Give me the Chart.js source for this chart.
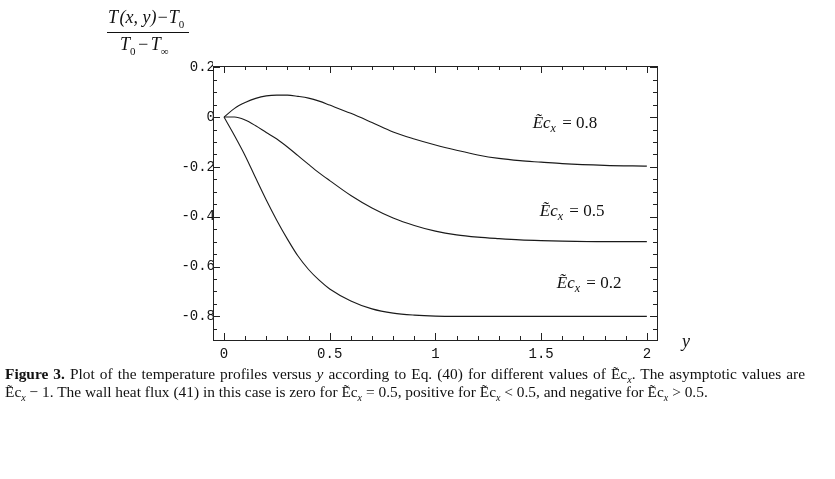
<!DOCTYPE html>
<html>
<head>
<meta charset="utf-8">
<script src="https://cdn.jsdelivr.net/npm/chart.js@4"></script>
<style>
  html, body { margin: 0; padding: 0; background: #fff; }
  #wrap { position: relative; width: 835px; height: 479px; overflow: hidden; }
  #c { position: absolute; left: 0; top: 0; }
  .frac { position: absolute; font-family: "Liberation Serif", serif; font-style: italic; font-size: 18px; color: #111; text-align: center; }
  .frac .num { position: absolute; white-space: nowrap; }
  .frac .bar { position: absolute; border-top: 1.3px solid #111; }
  .frac sub { font-size: 11px; font-style: normal; }
  .ylab { position: absolute; left: 682px; top: 331px; font-family: "Liberation Serif", serif; font-style: italic; font-size: 18px; color: #111; }
  .cap { position: absolute; left: 5px; font-family: "Liberation Serif", serif; font-size: 15.4px; color: #111; white-space: nowrap; }
  .cap.just { width: 800px; white-space: normal; text-align: justify; text-align-last: justify; }
  .cap sub { font-size: 10px; font-style: italic; }
</style>
</head>
<body>
<div id="wrap">
  <canvas id="c" width="835" height="479"></canvas>
  <div class="frac">
    <span class="num" style="left:108px; top:7px;">T&#8202;(x, y)&#8722;T<sub>0</sub></span>
    <div class="bar" style="left:107px; top:32px; width:82px;"></div>
    <span class="num" style="left:120px; top:34px;">T<sub>0</sub>&#8202;&#8722;&#8202;T<sub>&#8734;</sub></span>
  </div>
  <div class="ylab">y</div>
  <div class="cap just" style="top:365px;"><b>Figure 3.</b> Plot of the temperature profiles versus <i>y</i> according to Eq. (40) for different values of Ẽc<sub>x</sub>. The asymptotic values are</div>
  <div class="cap" style="top:383px;">Ẽc<sub>x</sub> &#8722; 1. The wall heat flux (41) in this case is zero for Ẽc<sub>x</sub> = 0.5, positive for Ẽc<sub>x</sub> &lt; 0.5, and negative for Ẽc<sub>x</sub> &gt; 0.5.</div>
</div>
<script>
// distance from the wall, y
var yPos = [0, 0.05, 0.1, 0.15, 0.2, 0.25, 0.3, 0.35, 0.4, 0.45, 0.5, 0.6, 0.7, 0.8, 0.9, 1.0, 1.1, 1.2, 1.3, 1.4, 1.5, 1.6, 1.8, 2.0];
// (T - T0)/(T0 - Tinf) for each Ec_x
var ec08 = [0, 0.035, 0.058, 0.075, 0.085, 0.088, 0.088, 0.083, 0.076, 0.064, 0.048, 0.015, -0.022, -0.06, -0.088, -0.112, -0.133, -0.152, -0.166, -0.175, -0.181, -0.187, -0.194, -0.197];
var ec05 = [0, 0.0, -0.012, -0.035, -0.062, -0.088, -0.12, -0.155, -0.19, -0.224, -0.255, -0.315, -0.365, -0.405, -0.435, -0.458, -0.473, -0.482, -0.488, -0.493, -0.496, -0.498, -0.5, -0.5];
var ec02 = [0, -0.075, -0.155, -0.245, -0.333, -0.415, -0.49, -0.558, -0.612, -0.655, -0.69, -0.738, -0.77, -0.787, -0.795, -0.799, -0.8, -0.8, -0.8, -0.8, -0.8, -0.8, -0.8, -0.8];
var ecValues = ["0.8", "0.5", "0.2"];
var xTicks = [0, 0.5, 1, 1.5, 2];
var yTicks = [-0.8, -0.6, -0.4, -0.2, 0, 0.2];

function pts(vals) {
    return yPos.map(function (p, i) { return { x: p, y: vals[i] }; });
}

function lineSet(vals) {
    return {
        data: pts(vals),
        borderColor: '#1a1a1a',
        borderWidth: 1.1,
        pointRadius: 0,
        cubicInterpolationMode: 'monotone',
        fill: false
    };
}

// Mathematica-style frame with inward major/minor ticks
var framePlugin = {
    id: 'frame',
    afterDraw: function (chart) {
        var ctx = chart.ctx, a = chart.chartArea;
        var xs = chart.scales.x, ys = chart.scales.y;
        ctx.save();
        ctx.strokeStyle = '#222';
        ctx.lineWidth = 1;
        ctx.strokeRect(Math.round(a.left) + 0.5, Math.round(a.top) + 0.5, Math.round(a.right - a.left), Math.round(a.bottom - a.top));
        ctx.beginPath();
        for (var i = 0; i <= 20; i++) {
            var v = i / 10;
            var len = (i % 5 === 0) ? 7 : 4;
            var px = Math.round(xs.getPixelForValue(v)) + 0.5;
            ctx.moveTo(px, a.bottom); ctx.lineTo(px, a.bottom - len);
            ctx.moveTo(px, a.top); ctx.lineTo(px, a.top + len);
        }
        for (var j = -17; j <= 4; j++) {
            var w = j * 0.05;
            var l2 = (j % 4 === 0) ? 7 : 4;
            var py = Math.round(ys.getPixelForValue(w)) + 0.5;
            ctx.moveTo(a.left, py); ctx.lineTo(a.left + l2, py);
            ctx.moveTo(a.right, py); ctx.lineTo(a.right - l2, py);
        }
        ctx.stroke();
        ctx.restore();
    }
};

// curve labels  Ẽc_x = ...
var labelPos = [[1.46, -0.024], [1.494, -0.378], [1.574, -0.667]];
var labelPlugin = {
    id: 'ecLabels',
    afterDatasetsDraw: function (chart) {
        var ctx = chart.ctx;
        var xs = chart.scales.x, ys = chart.scales.y;
        ctx.save();
        ctx.fillStyle = '#111';
        ctx.textBaseline = 'alphabetic';
        ecValues.forEach(function (val, k) {
            var x = xs.getPixelForValue(labelPos[k][0]);
            var y = ys.getPixelForValue(labelPos[k][1]) + 5;
            ctx.font = 'italic 17px "Liberation Serif"';
            ctx.fillText('Ẽc', x, y);
            x += ctx.measureText('Ẽc').width;
            ctx.font = 'italic 12px "Liberation Serif"';
            ctx.fillText('x', x, y + 4);
            x += ctx.measureText('x').width;
            ctx.font = '17px "Liberation Serif"';
            ctx.fillText(' = ' + val, x + 2, y);
        });
        ctx.restore();
    }
};

var ctx = document.getElementById('c').getContext('2d');
var chart = new Chart(ctx, {
    type: 'line',
    data: {
        datasets: [lineSet(ec08), lineSet(ec05), lineSet(ec02)]
    },
    options: {
        responsive: false,
        devicePixelRatio: 1,
        animation: false,
        layout: { padding: { top: 66, right: 178, bottom: 0, left: 0 } },
        plugins: { legend: { display: false }, tooltip: { enabled: false } },
        scales: {
            x: {
                type: 'linear',
                min: -0.052,
                max: 2.048,
                grid: { display: false, drawTicks: false },
                border: { display: false },
                afterBuildTicks: function (s) { s.ticks = xTicks.map(function (v) { return { value: v }; }); },
                afterFit: function (s) { s.height = 139; },
                ticks: {
                    color: '#111',
                    padding: 6,
                    maxRotation: 0,
                    font: { family: 'Liberation Mono', size: 14 },
                    callback: function (v) { return String(Math.round(v * 10) / 10); }
                }
            },
            y: {
                type: 'linear',
                min: -0.895,
                max: 0.205,
                grid: { display: false, drawTicks: false },
                border: { display: false },
                afterBuildTicks: function (s) { s.ticks = yTicks.map(function (v) { return { value: v }; }); },
                afterFit: function (s) { s.width = 213; },
                ticks: {
                    color: '#111',
                    padding: -2,
                    font: { family: 'Liberation Mono', size: 14 },
                    callback: function (v) { var r = Math.round(v * 10) / 10; return r === 0 ? '0' : r.toFixed(1); }
                }
            }
        }
    },
    plugins: [framePlugin, labelPlugin]
});
</script>
</body>
</html>
